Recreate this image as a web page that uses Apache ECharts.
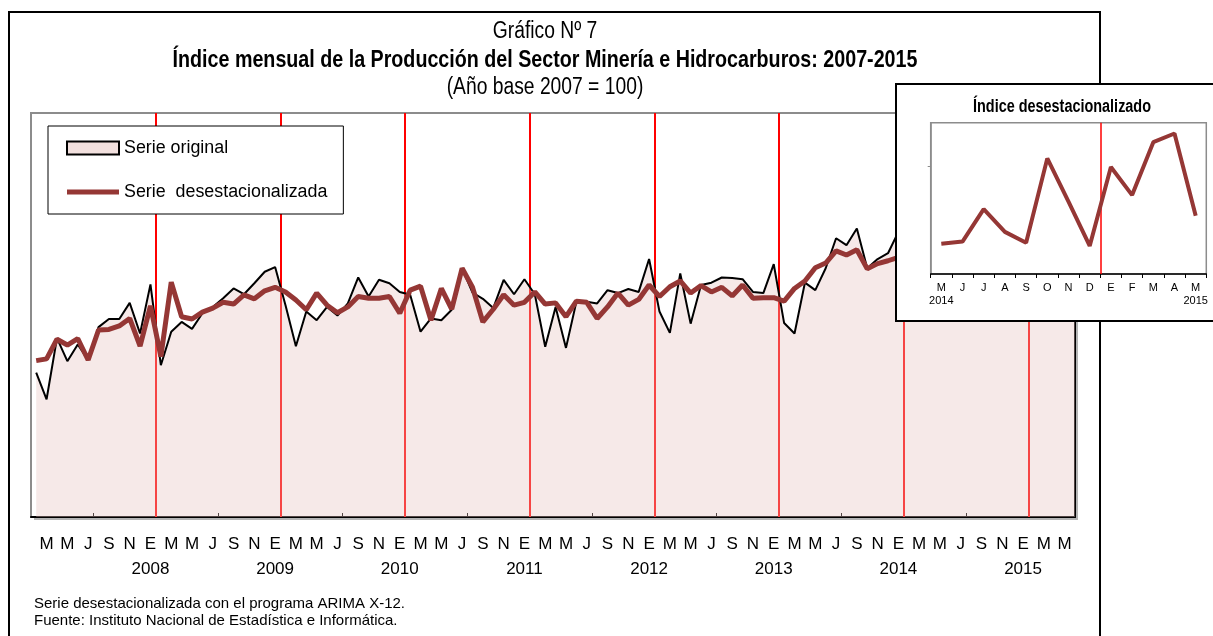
<!DOCTYPE html>
<html>
<head>
<meta charset="utf-8">
<script src="https://cdn.jsdelivr.net/npm/echarts@6/dist/echarts.min.js"></script>
<style>html,body{margin:0;padding:0;background:#fff}#c{width:1213px;height:636px}</style>
</head>
<body>
<div id="c"></div>
<script>
// ---- data ----
const monthInitials = ['E','F','M','A','M','J','J','A','S','O','N','D'];
const startYear = 2007; // series starts in January 2007
const original = [
  95.0, 90.4, 101.0, 97.0, 99.9, 97.2, 102.9, 104.3, 104.3, 107.1, 101.8, 110.3,
  96.3, 102.1, 103.8, 102.6, 105.3, 106.4, 107.9, 109.6, 108.6, 110.5, 112.5, 113.3,
  106.7, 99.6, 105.6, 104.1, 106.4, 104.9, 107.0, 111.5, 108.2, 111.1, 110.5, 109.0,
  108.5, 102.1, 104.4, 104.1, 105.9, 113.1, 108.9, 107.8, 106.2, 111.1, 108.6, 111.2,
  108.6, 99.5, 106.4, 99.3, 107.3, 107.3, 107.0, 109.3, 108.8, 109.5, 109.0, 114.7,
  105.6, 101.9, 112.2, 103.5, 110.2, 110.6, 111.5, 111.4, 111.2, 109.0, 108.8, 113.8,
  103.6, 101.8, 110.6, 109.3, 113.1, 118.3, 117.1, 120.0, 113.1, 114.7, 115.7, 119.4,
  109.7, 105.5, 110.2, 106.0, 107.0, 110.2, 112.7, 112.6, 108.0, 116.5, 113.0, 112.0,
  111.1, 105.5, 116.9, 114.1, 109.5
];
const deseasonalized = [
  97.1, 97.4, 100.8, 99.8, 100.9, 97.2, 102.4, 102.5, 103.1, 104.4, 99.6, 106.6,
  97.8, 110.7, 104.7, 104.3, 105.5, 106.2, 107.2, 106.9, 108.5, 107.8, 109.2, 109.8,
  109.0, 107.6, 105.9, 108.8, 106.7, 105.4, 106.4, 108.2, 107.9, 107.9, 108.2, 105.3,
  109.3, 110.0, 104.1, 109.6, 106.0, 113.1, 109.8, 103.8, 106.0, 108.5, 106.7, 107.2,
  109.0, 106.9, 107.1, 104.7, 107.4, 107.2, 104.4, 106.4, 108.8, 106.7, 107.7, 110.2,
  108.2, 109.9, 110.9, 108.8, 110.1, 109.0, 109.8, 108.3, 110.2, 107.9, 108.0, 108.0,
  107.4, 109.6, 110.9, 113.2, 114.0, 116.1, 115.4, 116.3, 113.0, 113.9, 114.4, 115.0,
  113.5, 112.0, 110.5, 109.0, 107.8, 108.0, 111.0, 108.9, 107.9, 115.7, 111.7, 107.6,
  114.9, 112.3, 117.2, 118.0, 110.4
];
const insetStart = 88;           // May 2014
const insetYears = ['2014', '2015'];
const seriesNames = ['Serie original', 'Serie  desestacionalizada'];
const titleLines = ['Gráfico Nº 7',
  'Índice mensual de la Producción del Sector Minería e Hidrocarburos: 2007-2015',
  '(Año base 2007 = 100)'];
const insetTitle = 'Índice desestacionalizado';
const footer = 'Serie desestacionalizada con el programa ARIMA X-12.\nFuente: Instituto Nacional de Estadística e Informática.';

// ---- fonts ----
function hasFont(name) {
  const c = document.createElement('canvas').getContext('2d');
  const t = 'Serie original MMJSNE 2008';
  c.font = '30px monospace';
  const a = c.measureText(t).width;
  c.font = '30px "' + name + '", monospace';
  return Math.abs(c.measureText(t).width - a) > 0.5;
}
let NF = '"Liberation Sans", sans-serif', k = 0.85, sx = 0.82;
if (hasFont('Liberation Sans Narrow')) { NF = '"Liberation Sans Narrow", sans-serif'; k = 1; sx = 1; }
else if (hasFont('Arial Narrow')) { NF = '"Arial Narrow", sans-serif'; k = 1; sx = 1; }
const RF = '"Liberation Sans", Arial, sans-serif';

// ---- derived ----
const n = original.length;
const origPts = original.map((v, i) => [i, v]);
const desPts = deseasonalized.map((v, i) => [i, v]);
const janLines = [], tickPos = [], labelPos = [];
for (let i = 1; i < n; i++) {
  if (i % 12 === 0) janLines.push(i - 0.5);
  if (i % 6 === 0) tickPos.push(i - 0.5);
  if (i % 2 === 1) labelPos.push(i);
}
const insetData = deseasonalized.slice(insetStart);
const insetPts = insetData.map((v, i) => [i, v]);
const insetIdx = insetData.map((_, i) => i);
const insetBounds = insetData.map((_, i) => i - 0.5).concat([insetData.length - 0.5]);
const insetJan = [];
insetIdx.forEach(i => { if ((insetStart + i) % 12 === 0) insetJan.push(i - 0.5); });

function titleText(text, x, y, size, weight, z) {
  return {type: 'text', x: x, y: y, scaleX: sx, z: z || 10,
    style: {text: text, fill: '#000', font: weight + ' ' + size + 'px ' + (sx === 1 ? NF : RF),
      textAlign: 'center', textVerticalAlign: 'middle'}};
}

const chart = echarts.init(document.getElementById('c'), null, {renderer: 'canvas', width: 1213, height: 636});
const option = {
  animation: false,
  backgroundColor: '#fff',
  title: [
    {text: footer, left: 34, top: 595, padding: 0,
     textStyle: {fontFamily: RF, fontSize: 15, fontWeight: 'normal', color: '#000', lineHeight: 17}}
  ],
  legend: {
    left: 48, top: 126, orient: 'vertical', padding: [10, 16, 10, 18], itemGap: 20,
    itemWidth: 52, itemHeight: 13, backgroundColor: '#fff', borderColor: '#000', borderWidth: 1,
    selectedMode: false, z: 20,
    textStyle: {fontFamily: NF, fontSize: 21 * k, color: '#000', lineHeight: 24},
    data: [
      {name: seriesNames[0], icon: 'rect', itemStyle: {color: '#F2E0DE', borderColor: '#000', borderWidth: 2}},
      {name: seriesNames[1], icon: 'path://M0,0H54V5H0Z', itemStyle: {color: '#953735', borderWidth: 0}}
    ]
  },
  graphic: {elements: [
    {type: 'rect', z: 0, shape: {x: 9, y: 12, width: 1091, height: 660}, style: {fill: 'none', stroke: '#000', lineWidth: 2}},
    {type: 'rect', z: -1, shape: {x: 34, y: 116, width: 1044, height: 404}, style: {fill: '#b4b4b4'}},
    titleText(titleLines[0], 545, 32, 23.5, 'normal'),
    titleText(titleLines[1], 545, 60, 24, 'bold'),
    titleText(titleLines[2], 545, 88, 23.5, 'normal'),
    {type: 'rect', z: 100, shape: {x: 896, y: 84, width: 330, height: 237}, style: {fill: '#fff', stroke: '#000', lineWidth: 2}},
    titleText(insetTitle, 1062, 107, 17.6, 'bold', 110)
  ]},
  grid: [
    {left: 31, top: 113, width: 1044, height: 404, show: true, backgroundColor: '#fff',
     borderColor: '#8c8c8c', borderWidth: 2},
    {left: 930.7, top: 122.7, width: 275.6, height: 151.3, show: true, backgroundColor: 'rgba(0,0,0,0)',
     borderColor: '#8c8c8c', borderWidth: 1.5, z: 105}
  ],
  xAxis: [
    {type: 'value', gridIndex: 0, min: -0.5, max: n - 1,
     axisLine: {onZero: false, lineStyle: {color: '#000', width: 2}},
     axisTick: {show: true, inside: true, length: 4, customValues: tickPos, lineStyle: {color: '#000', width: 1}},
     axisLabel: {customValues: labelPos, fontFamily: NF, fontSize: 20 * k, color: '#000', margin: 15, lineHeight: 25,
       formatter: v => { const i = Math.round(v); const m = (i + 1) % 12; let s = monthInitials[m];
         if (m === 0) s += '\n' + (startYear + (i + 1) / 12); return s; }},
     splitLine: {show: false}},
    {type: 'value', gridIndex: 1, min: -0.5, max: insetData.length - 0.5, z: 106,
     axisLine: {onZero: false, lineStyle: {color: '#000', width: 1.5}},
     axisTick: {show: true, length: 4, customValues: insetBounds, lineStyle: {color: '#000', width: 1}},
     axisLabel: {customValues: insetIdx, fontFamily: RF, fontSize: 11, color: '#000', margin: 7, lineHeight: 13,
       formatter: v => { const i = Math.round(v); let s = monthInitials[(insetStart + i) % 12];
         if (i === 0) s += '\n' + insetYears[0]; if (i === insetData.length - 1) s += '\n' + insetYears[1]; return s; }},
     splitLine: {show: false}}
  ],
  yAxis: [
    {type: 'value', gridIndex: 0, min: 70, max: 140, position: 'right',
     axisLine: {show: true, onZero: false, lineStyle: {color: '#000', width: 2}},
     axisTick: {show: false}, axisLabel: {show: false}, splitLine: {show: false}},
    {type: 'value', gridIndex: 1, min: 105, max: 119, z: 106,
     axisLine: {show: true, onZero: false, lineStyle: {color: '#8c8c8c', width: 1.5}},
     axisTick: {show: true, length: 3, customValues: [115], lineStyle: {color: '#8c8c8c'}},
     axisLabel: {show: false}, splitLine: {show: false}}
  ],
  series: [
    {type: 'line', name: seriesNames[0], xAxisIndex: 0, yAxisIndex: 0, data: origPts, symbol: 'none', z: 3,
     lineStyle: {color: '#000', width: 2}, itemStyle: {color: '#000'},
     areaStyle: {color: 'rgba(230,194,190,0.51)', origin: 'start'},
     markLine: {silent: true, symbol: 'none', z: 1, label: {show: false}, animation: false,
       lineStyle: {color: '#ff0000', width: 2, type: 'solid'}, data: janLines.map(x => ({xAxis: x}))}},
    {type: 'line', name: seriesNames[1], xAxisIndex: 0, yAxisIndex: 0, data: desPts, symbol: 'none', z: 4,
     lineStyle: {color: '#953735', width: 5}, itemStyle: {color: '#953735'}},
    {type: 'line', name: 'inset', xAxisIndex: 1, yAxisIndex: 1, data: insetPts, symbol: 'none', z: 108,
     lineStyle: {color: '#953735', width: 4}, itemStyle: {color: '#953735'},
     markLine: {silent: true, symbol: 'none', z: 107, label: {show: false}, animation: false,
       lineStyle: {color: '#ff0000', width: 1.5, type: 'solid'}, data: insetJan.map(x => ({xAxis: x}))}}
  ]
};
chart.setOption(option);
</script>
</body>
</html>
